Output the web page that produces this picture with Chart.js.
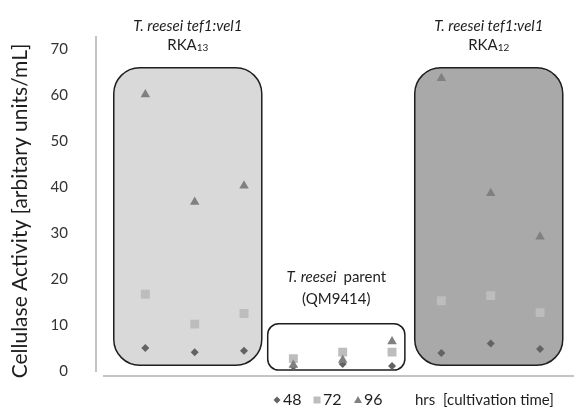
<!DOCTYPE html>
<html>
<head>
<meta charset="utf-8">
<script src="https://cdn.jsdelivr.net/npm/chart.js@4.4.0/dist/chart.umd.min.js"></script>
<style>
    html, body { margin: 0; padding: 0; background: #fff; }
    #wrap { width: 574px; height: 408px; }
</style>
</head>
<body>
<div id="wrap"><canvas id="chart" width="574" height="408"></canvas></div>
<script>
// sample slots: 1-3 RKA13, 4-6 parent QM9414, 7-9 RKA12
const samplePos = [1, 2, 3, 4, 5, 6, 7, 8, 9];
const hours = ['48', '72', '96'];
const activity48 = [5.0, 4.1, 4.4, 1.0, 1.5, 1.1, 3.9, 6.0, 4.8];
const activity72 = [16.7, 10.2, 12.5, 2.7, 4.1, 4.1, 15.3, 16.4, 12.7];
const activity96 = [60.2, 36.8, 40.3, 1.3, 2.4, 6.4, 63.7, 38.7, 29.2];
const yTicks = [0, 10, 20, 30, 40, 50, 60, 70];

// strain groups: x range / y range in data units
const groupX = [[0.36, 3.36], [3.48, 6.26], [6.46, 9.46]];
const groupY = [[1.26, 66.0], [0.2, 10.3], [1.26, 66.0]];

const FONT = 'Lato, "Open Sans", sans-serif';
const TEXT = '#1e1e1e';

const STYLES = [
    { pointStyle: 'rectRot', color: '#636363', radius: 4 },
    { pointStyle: 'rect', color: '#bdbdbd', radius: 6.3 },
    { pointStyle: 'triangle', color: '#808080', radius: 5.5 }
];

const series = [activity48, activity72, activity96];

const datasets = series.map((vals, i) => ({
    label: hours[i],
    data: vals.map((v, j) => ({ x: samplePos[j], y: v })),
    pointStyle: STYLES[i].pointStyle,
    pointRadius: STYLES[i].radius,
    pointBackgroundColor: STYLES[i].color,
    pointBorderColor: STYLES[i].color,
    pointBorderWidth: 0,
    showLine: false,
    order: 2 - i
}));

function roundRect(ctx, x, y, w, h, r) {
    ctx.beginPath();
    ctx.moveTo(x + r, y);
    ctx.arcTo(x + w, y, x + w, y + h, r);
    ctx.arcTo(x + w, y + h, x, y + h, r);
    ctx.arcTo(x, y + h, x, y, r);
    ctx.arcTo(x, y, x + w, y, r);
    ctx.closePath();
}

const groupBoxes = {
    id: 'groupBoxes',
    beforeDatasetsDraw(chart) {
        const { ctx, scales: { x, y } } = chart;
        const fills = ['#d9d9d9', '#ffffff', '#a9a9a9'];
        const radii = [26, 11, 26];
        ctx.save();
        groupX.forEach((gx, i) => {
            const left = x.getPixelForValue(gx[0]);
            const right = x.getPixelForValue(gx[1]);
            const top = y.getPixelForValue(groupY[i][1]);
            const bottom = y.getPixelForValue(groupY[i][0]);
            roundRect(ctx, left, top, right - left, bottom - top, radii[i]);
            ctx.fillStyle = fills[i];
            ctx.fill();
            ctx.lineWidth = 1.5;
            ctx.strokeStyle = '#1e1e1e';
            ctx.stroke();
        });
        ctx.restore();
    },
    afterDraw(chart) {
        const { ctx, scales: { x, y } } = chart;
        ctx.save();

        // bottom axis line
        ctx.strokeStyle = '#c4c4c4';
        ctx.lineWidth = 2;
        ctx.beginPath();
        ctx.moveTo(103, y.getPixelForValue(0) + 5);
        ctx.lineTo(chart.width, y.getPixelForValue(0) + 5);
        ctx.stroke();

        // y title, drawn here so it sits where the original has it
        ctx.save();
        ctx.translate(20, 211);
        ctx.rotate(-Math.PI / 2);
        ctx.font = `21px ${FONT}`;
        ctx.fillStyle = TEXT;
        ctx.textAlign = 'center';
        ctx.textBaseline = 'middle';
        ctx.fillText('Cellulase Activity [arbitary units/mL]', 0, 0);
        ctx.restore();

        ctx.fillStyle = TEXT;
        ctx.textBaseline = 'middle';

        // strain labels
        const strainLabel = (cx, topY, sub) => {
            ctx.font = `italic 15px ${FONT}`;
            ctx.textAlign = 'center';
            ctx.fillText('T. reesei tef1:vel1', cx, topY);
            ctx.font = `15px ${FONT}`;
            const wMain = ctx.measureText('RKA').width;
            ctx.font = `10px ${FONT}`;
            const wSub = ctx.measureText(sub).width;
            const start = cx - (wMain + wSub) / 2;
            ctx.textAlign = 'left';
            ctx.font = `15px ${FONT}`;
            ctx.fillText('RKA', start, topY + 19);
            ctx.font = `10px ${FONT}`;
            ctx.fillText(sub, start + wMain, topY + 22);
        };
        const c1 = x.getPixelForValue((groupX[0][0] + groupX[0][1]) / 2);
        const c3 = x.getPixelForValue((groupX[2][0] + groupX[2][1]) / 2);
        strainLabel(c1, 26, '13');
        strainLabel(c3, 26, '12');

        const c2 = x.getPixelForValue((groupX[1][0] + groupX[1][1]) / 2);
        ctx.font = `italic 15px ${FONT}`;
        const wIt = ctx.measureText('T. reesei  ').width;
        ctx.font = `15px ${FONT}`;
        const wPar = ctx.measureText('parent').width;
        const s2 = c2 - (wIt + wPar) / 2;
        ctx.textAlign = 'left';
        ctx.font = `italic 15px ${FONT}`;
        ctx.fillText('T. reesei  ', s2, 277);
        ctx.font = `15px ${FONT}`;
        ctx.fillText('parent', s2 + wIt, 277);
        ctx.textAlign = 'center';
        ctx.fillText('(QM9414)', c2, 299);

        // legend
        const ly = 400;
        const marks = [277, 317, 358];
        ctx.font = `16px ${FONT}`;
        ctx.textAlign = 'left';
        marks.forEach((mx, i) => {
            ctx.fillStyle = STYLES[i].color;
            ctx.beginPath();
            if (i === 0) {
                ctx.moveTo(mx, ly - 3.5); ctx.lineTo(mx + 3.5, ly);
                ctx.lineTo(mx, ly + 3.5); ctx.lineTo(mx - 3.5, ly);
            } else if (i === 1) {
                ctx.rect(mx - 3.5, ly - 3.5, 7, 7);
            } else {
                ctx.moveTo(mx, ly - 4); ctx.lineTo(mx + 4, ly + 3); ctx.lineTo(mx - 4, ly + 3);
            }
            ctx.closePath();
            ctx.fill();
            ctx.fillStyle = TEXT;
            ctx.fillText(hours[i], mx + 6, ly);
        });
        ctx.font = `15px ${FONT}`;
        ctx.fillText('hrs  [cultivation time]', 415, ly);

        ctx.restore();
    }
};

new Chart(document.getElementById('chart'), {
    type: 'scatter',
    data: { datasets },
    options: {
        responsive: false,
        animation: false,
        layout: { padding: { left: 0, right: 0, top: 32, bottom: 31 } },
        plugins: { legend: { display: false }, tooltip: { enabled: false } },
        scales: {
            x: { type: 'linear', min: 0, max: 9.56, display: false },
            y: {
                type: 'linear',
                min: 0,
                max: 72.7,
                afterFit: (scale) => { scale.width = 96; },
                afterBuildTicks: (scale) => { scale.ticks = yTicks.map(v => ({ value: v })); },
                grid: { display: false, drawTicks: false },
                border: { display: true, color: '#c4c4c4', width: 2 },
                ticks: {
                    padding: 28,
                    color: '#333333',
                    font: { family: FONT, size: 15 }
                }
            }
        }
    },
    plugins: [groupBoxes]
});
</script>
</body>
</html>
